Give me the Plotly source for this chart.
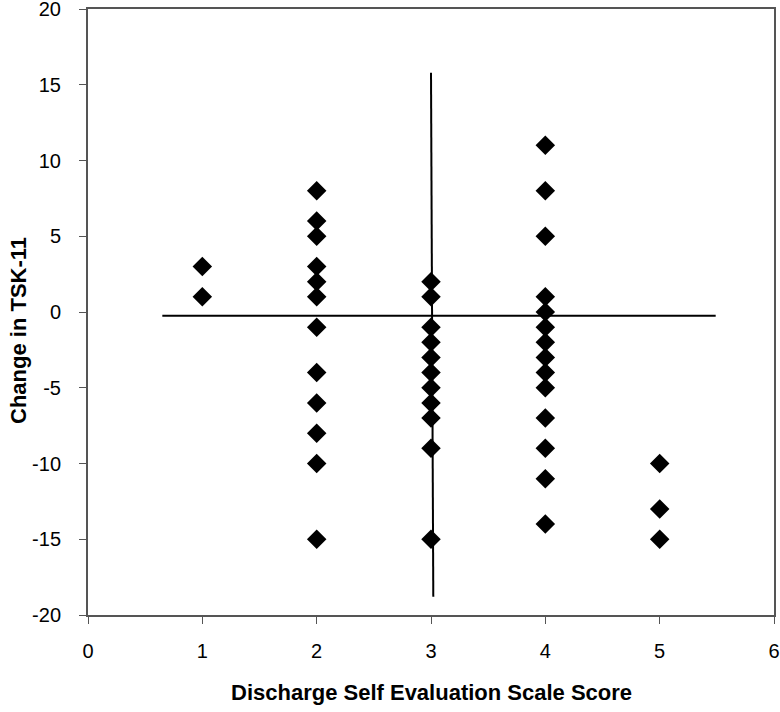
import plotly.graph_objects as go

x_vals = [1, 1,
          2, 2, 2, 2, 2, 2, 2, 2, 2, 2, 2, 2,
          3, 3, 3, 3, 3, 3, 3, 3, 3, 3, 3,
          4, 4, 4, 4, 4, 4, 4, 4, 4, 4, 4, 4, 4, 4,
          5, 5, 5]
y_vals = [3, 1,
          8, 6, 5, 3, 2, 1, -1, -4, -6, -8, -10, -15,
          2, 1, -1, -2, -3, -4, -5, -6, -7, -9, -15,
          11, 8, 5, 1, 0, -1, -2, -3, -4, -5, -7, -9, -11, -14,
          -10, -13, -15]

hline_x = [0.65, 5.49]
hline_y = [-0.25, -0.25]
vline_x = [3.0, 3.02]
vline_y = [15.8, -18.8]

x_ticks = [0, 1, 2, 3, 4, 5, 6]
y_ticks = [-20, -15, -10, -5, 0, 5, 10, 15, 20]
y_tick_text = ["-20", "-15", "-10", "-5", "0", "5", "10", "15", "20"]

x_title = "Discharge Self Evaluation Scale Score"
y_title = "Change in TSK-11"

fig = go.Figure()
fig.add_trace(go.Scatter(x=hline_x, y=hline_y, mode="lines",
                         line=dict(color="black", width=2), showlegend=False))
fig.add_trace(go.Scatter(x=vline_x, y=vline_y, mode="lines",
                         line=dict(color="black", width=2), showlegend=False))
fig.add_trace(go.Scatter(x=x_vals, y=y_vals, mode="markers",
                         marker=dict(symbol="diamond", size=15, color="black"),
                         showlegend=False))

font = "Liberation Sans, Arial, sans-serif"
fig.update_layout(
    width=780, height=712,
    margin=dict(l=88, r=6, t=9, b=97, autoexpand=False),
    paper_bgcolor="white", plot_bgcolor="white",
    font=dict(family=font, size=20, color="black"),
    xaxis=dict(range=[0, 6], tickvals=x_ticks, showgrid=False, zeroline=False,
               showline=True, linecolor="#555555", linewidth=2, mirror=True,
               ticks="outside", ticklen=7, tickcolor="#555555", automargin=False,
               ticklabelstandoff=10, ticklabeloverflow="allow"),
    yaxis=dict(range=[-20, 20], tickvals=y_ticks, ticktext=y_tick_text,
               showgrid=False, zeroline=False,
               showline=True, linecolor="#555555", linewidth=2, mirror=True,
               ticks="outside", ticklen=7, tickcolor="#555555", automargin=False,
               ticklabelstandoff=14, ticklabeloverflow="allow"),
    annotations=[
        dict(text="<b>%s</b>" % x_title, xref="paper", yref="paper",
             x=0.5, y=-77 / 606, xanchor="center", yanchor="middle",
             showarrow=False, font=dict(size=22)),
        dict(text="<b>%s</b>" % y_title, xref="paper", yref="paper",
             x=-70 / 686, y=(615 - 331) / 606, xanchor="center", yanchor="middle",
             textangle=-90, showarrow=False, font=dict(size=22)),
    ],
)

fig.write_html("out.html", config={"displayModeBar": False},
               post_script="document.body.style.margin='0';")
